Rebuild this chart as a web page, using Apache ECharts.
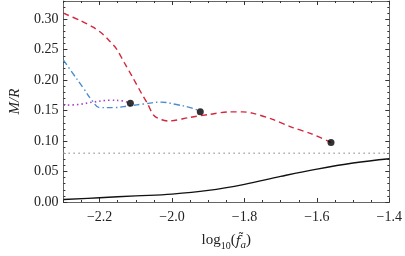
<!DOCTYPE html>
<html><head><meta charset="utf-8">
<script src="https://cdn.jsdelivr.net/npm/echarts@6/dist/echarts.min.js"></script>
<style>html,body{margin:0;padding:0;background:#fff}#c{width:405px;height:256px}</style>
</head><body><div id="c"></div>
<script>
// Data
var redX   = [-2.3, -2.254, -2.218, -2.194, -2.172, -2.153, -2.132, -2.11, -2.083, -2.069, -2.05, -2.028, -2.009, -1.95, -1.895, -1.84, -1.805, -1.778, -1.724, -1.67, -1.615, -1.561];
var redY   = [0.310, 0.298, 0.287, 0.277, 0.264, 0.251, 0.229, 0.206, 0.177, 0.163, 0.142, 0.135, 0.133, 0.139, 0.144, 0.148, 0.148, 0.146, 0.136, 0.123, 0.112, 0.098];
var blueX  = [-2.3, -2.275, -2.246, -2.22, -2.2, -2.159, -2.118, -2.077, -2.031, -1.988, -1.95, -1.922];
var blueY  = [0.233, 0.212, 0.188, 0.166, 0.155, 0.155, 0.158, 0.161, 0.164, 0.160, 0.155, 0.149];
var purpX  = [-2.3, -2.26, -2.218, -2.172, -2.137, -2.115];
var purpY  = [0.159, 0.160, 0.164, 0.167, 0.166, 0.162];
var blackX = [-2.3, -2.2, -2.1, -2.0, -1.9, -1.8, -1.7, -1.6, -1.5, -1.4];
var blackY = [0.004, 0.007, 0.010, 0.013, 0.019, 0.029, 0.042, 0.054, 0.064, 0.071];
var dotsX  = [-2.115, -1.922, -1.561];
var dotsY  = [0.162, 0.148, 0.0976];
var refX   = [-2.3, -1.4];
var refY   = [0.08, 0.08];
var xTicks = [-2.2, -2.0, -1.8, -1.6, -1.4];
var yTicks = [0.00, 0.05, 0.10, 0.15, 0.20, 0.25, 0.30];

function zip(a, b) { return a.map(function (v, i) { return [v, b[i]]; }); }
function steps(a, b, s) { var r = []; for (var v = a; v <= b + 1e-9; v += s) r.push(Math.round(v * 1000) / 1000); return r; }

var font = 'Liberation Serif';
var xMinor = steps(-2.3, -1.4, 0.05);
var yMinor = steps(0, 0.33, 0.01);

function xAx(pos, major, label) {
  return {
    type: 'value', min: -2.3, max: -1.4, position: pos,
    axisLine: { show: major, onZero: false, lineStyle: { color: '#666', width: 1 } },
    splitLine: { show: false },
    axisTick: { inside: true, length: major ? 4 : 2, customValues: major ? xTicks : xMinor, lineStyle: { color: '#333' } },
    axisLabel: { show: label, customValues: xTicks, margin: 8, fontFamily: font, fontSize: 14, color: '#222',
      formatter: function (v) { return (v < 0 ? '\u2212' : '') + Math.abs(v).toFixed(1); } },
    name: label ? '{n|log}{s|10}{n|(}{i|f\u0303}{si|a}{n|)}' : '',
    nameLocation: 'middle', nameGap: 31,
    nameTextStyle: { rich: {
      n: { fontFamily: font, fontSize: 15, color: '#222', verticalAlign: 'bottom', padding: [0, 0, 3, 0] },
      i: { fontFamily: 'DejaVu Serif', fontSize: 13, fontStyle: 'italic', color: '#222', verticalAlign: 'bottom', padding: [0, 0, 3, 0] },
      s: { fontFamily: font, fontSize: 10, color: '#222', verticalAlign: 'bottom' },
      si: { fontFamily: font, fontSize: 11, fontStyle: 'italic', color: '#222', verticalAlign: 'bottom' }
    } }
  };
}
function yAx(pos, major, label) {
  return {
    type: 'value', min: 0, max: 0.33, position: pos,
    axisLine: { show: major, onZero: false, lineStyle: { color: '#666', width: 1 } },
    splitLine: { show: false },
    axisTick: { inside: true, length: major ? 4 : 2, customValues: major ? yTicks : yMinor, lineStyle: { color: '#333' } },
    axisLabel: { show: label, customValues: yTicks, margin: 5, fontFamily: font, fontSize: 14, color: '#222',
      formatter: function (v) { return v.toFixed(2); } },
    name: label ? 'M/R' : '', nameLocation: 'middle', nameGap: 32, nameRotate: 90,
    nameTextStyle: { fontFamily: font, fontSize: 15, fontStyle: 'italic', color: '#222' }
  };
}

var chart = echarts.init(document.getElementById('c'), null, { renderer: 'canvas' });
chart.setOption({
  animation: false,
  backgroundColor: '#fff',
  grid: { left: 58, right: 15, top: 1, bottom: 52 },
  xAxis: [xAx('bottom', true, true), xAx('bottom', false, false), xAx('top', true, false), xAx('top', false, false)],
  yAxis: [yAx('left', true, true), yAx('left', false, false), yAx('right', true, false), yAx('right', false, false)],
  series: [
    { type: 'line', data: zip(refX, refY), symbol: 'none', lineStyle: { color: '#aaaaaa', width: 1.5, type: [1.5, 3.5] } },
    { type: 'line', data: zip(blackX, blackY), symbol: 'none', smooth: 0.4, lineStyle: { color: '#111', width: 1.4 } },
    { type: 'line', data: zip(redX, redY), symbol: 'none', smooth: 0.3, lineStyle: { color: '#d2283c', width: 1.4, type: [6, 4] } },
    { type: 'line', data: zip(blueX, blueY), symbol: 'none', smooth: 0.4, lineStyle: { color: '#4a8cd0', width: 1.4, type: [6, 3, 1.5, 3] } },
    { type: 'line', data: zip(purpX, purpY), symbol: 'none', smooth: 0.4, lineStyle: { color: '#a545c0', width: 1.6, type: [1.5, 3] } },
    { type: 'scatter', data: zip(dotsX, dotsY), symbol: 'circle', symbolSize: 7, itemStyle: { color: '#000' }, z: 5 }
  ]
});
</script></body></html>
